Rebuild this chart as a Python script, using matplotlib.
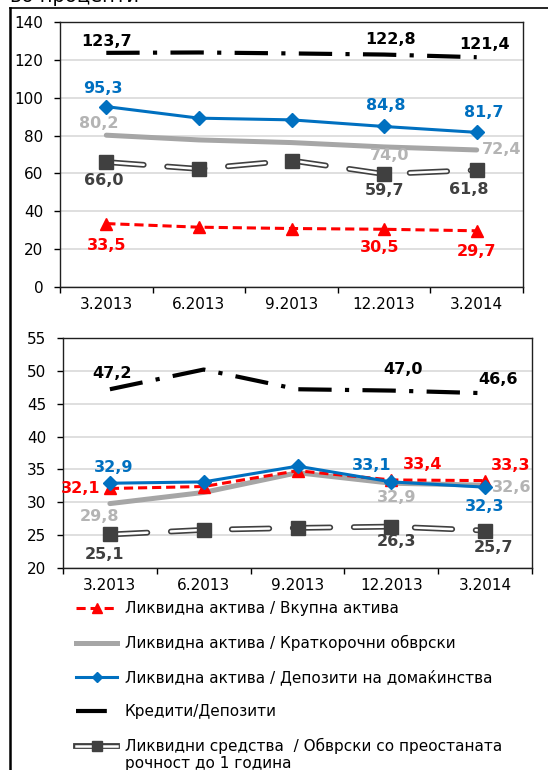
import matplotlib
matplotlib.use("Agg")
import matplotlib.pyplot as plt
import matplotlib.patheffects as pe
from matplotlib.lines import Line2D

# податоци
periods = ["3.2013", "6.2013", "9.2013", "12.2013", "3.2014"]

top_red = [33.5, 31.6, 30.9, 30.5, 29.7]
top_gray = [80.2, 77.7, 76.3, 74.0, 72.4]
top_blue = [95.3, 89.2, 88.3, 84.8, 81.7]
top_black = [123.7, 123.9, 123.4, 122.8, 121.4]
top_dark = [66.0, 62.4, 66.8, 59.7, 61.8]

bot_red = [32.1, 32.4, 34.8, 33.4, 33.3]
bot_gray = [29.8, 31.5, 34.5, 32.9, 32.6]
bot_blue = [32.9, 33.1, 35.5, 33.1, 32.3]
bot_black = [47.2, 50.2, 47.2, 47.0, 46.6]
bot_dark = [25.1, 25.8, 26.1, 26.3, 25.7]

labels = ["Ликвидна актива / Вкупна актива",
          "Ликвидна актива / Краткорочни обврски",
          "Ликвидна актива / Депозити на домаќинства",
          "Кредити/Депозити",
          "Ликвидни средства  / Обврски со преостаната"]
label_cont = "рочност до 1 година"

RED = "#FF0000"
GRAY = "#A6A6A6"
GRAY_LBL = "#B4B4B4"
BLUE = "#0070C0"
DARK = "#404040"

plt.rcParams['font.family'] = ['DejaVu Sans']

fig = plt.figure(figsize=(5.48, 7.70), dpi=100)
W, H = 548.0, 770.0


def fx(px):
    return px / W


def fy(py):
    return 1 - py / H


def double_line(ax, x, y):
    ax.plot(x, y, color="white", lw=1.8, linestyle=(0, (15, 9.4)),
            dash_capstyle="round", zorder=5,
            path_effects=[pe.Stroke(linewidth=4.2, foreground=DARK), pe.Normal()])
    ax.plot(x, y, color=DARK, marker="s", ms=9.5, linestyle="none", zorder=6)


def put_labels(ax, y, idxs, offs, color):
    for i, (dx, dy) in zip(idxs, offs):
        ax.annotate(f"{y[i]:.1f}".replace(".", ","), (i, y[i]), xytext=(dx, dy),
                    textcoords="offset pixels", ha="center", va="center",
                    fontsize=11.5, fontweight="bold", color=color, zorder=10)


def style_axes(ax, ylim, step):
    ax.set_xlim(-0.5, 4.5)
    ax.set_ylim(*ylim)
    ax.set_yticks(range(ylim[0], ylim[1] + 1, step))
    ax.set_xticks(range(len(periods)))
    ax.set_xticklabels(periods)
    ax.set_xticks([i - 0.5 for i in range(len(periods) + 1)], minor=True)
    ax.tick_params(axis="x", which="major", length=0, pad=7, labelsize=11)
    ax.tick_params(axis="x", which="minor", length=4, width=1, direction="out")
    ax.tick_params(axis="y", length=4, width=1, direction="out", pad=8, labelsize=11)
    ax.grid(axis="y", color="#D9D9D9", lw=1.2)
    ax.set_axisbelow(True)
    for s in ax.spines.values():
        s.set_color("#202020")
        s.set_linewidth(1.0)


x = list(range(len(periods)))

# горен график
ax1 = fig.add_axes([fx(60), fy(287), fx(523) - fx(60), fy(22) - fy(287)])
ax1.plot(x, top_gray, color=GRAY, lw=3.6, zorder=3, solid_capstyle="round")
ax1.plot(x, top_red, color=RED, lw=2.2, linestyle=(0, (3, 1.6)), marker="^", ms=9, zorder=4)
ax1.plot(x, top_blue, color=BLUE, lw=2.2, marker="D", ms=7, zorder=4)
ax1.plot(x, top_black, color="black", lw=3, linestyle=(0, (8, 3.2, 1, 3.2)), zorder=4)
double_line(ax1, x, top_dark)
style_axes(ax1, (0, 140), 20)

put_labels(ax1, top_black, [0, 3, 4], [(0, 11), (6, 15), (8, 13)], "black")
put_labels(ax1, top_blue, [0, 3, 4], [(-3, 18), (2, 21), (7, 20)], BLUE)
put_labels(ax1, top_gray, [0, 3, 4], [(-8, 12), (6, -9), (25, 0)], GRAY_LBL)
put_labels(ax1, top_dark, [0, 3, 4], [(-3, -18), (0, -17), (-8, -19)], DARK)
put_labels(ax1, top_red, [0, 3, 4], [(0, -22), (-4, -18), (0, -21)], RED)

# долен график
ax2 = fig.add_axes([fx(63), fy(568), fx(532) - fx(63), fy(338) - fy(568)])
ax2.plot(x, bot_gray, color=GRAY, lw=3.6, zorder=3, solid_capstyle="round")
ax2.plot(x, bot_red, color=RED, lw=2.2, linestyle=(0, (3, 1.6)), marker="^", ms=9, zorder=4)
ax2.plot(x, bot_blue, color=BLUE, lw=2.2, marker="D", ms=7, zorder=4)
ax2.plot(x, bot_black, color="black", lw=3, linestyle=(0, (8, 3.2, 1, 3.2)), zorder=4)
double_line(ax2, x, bot_dark)
style_axes(ax2, (20, 55), 5)

put_labels(ax2, bot_black, [0, 3, 4], [(2, 16), (12, 21), (13, 14)], "black")
put_labels(ax2, bot_blue, [0, 3, 4], [(4, 16), (-20, 16), (0, -19)], BLUE)
put_labels(ax2, bot_red, [0, 3, 4], [(-29, 0), (31, 15), (26, 15)], RED)
put_labels(ax2, bot_gray, [0, 3, 4], [(-10, -13), (5, -14), (27, -2)], GRAY_LBL)
put_labels(ax2, bot_dark, [0, 3, 4], [(-5, -20), (5, -15), (8, -17)], DARK)

# легенда
h_red = Line2D([], [], color=RED, lw=2.2, linestyle=(0, (3, 1.6)), marker="^", ms=7)
h_gray = Line2D([], [], color=GRAY, lw=3.6)
h_blue = Line2D([], [], color=BLUE, lw=2.2, marker="D", ms=5)
h_black = Line2D([], [], color="black", lw=3, linestyle=(0, (7.4, 20)))
h_dl = Line2D([], [], color="white", lw=1.8,
              path_effects=[pe.Stroke(linewidth=4.2, foreground=DARK), pe.Normal()])
h_dm = Line2D([], [], color=DARK, marker="s", ms=7, linestyle="none")

leg = fig.legend([h_red, h_gray, h_blue, h_black, (h_dl, h_dm)], labels,
                 loc="upper left", bbox_to_anchor=(fx(76), fy(601)),
                 frameon=False, borderpad=0, borderaxespad=0, fontsize=11,
                 labelspacing=1.23, handlelength=2.7, handletextpad=0.5)

# втор ред од последната ставка
fig.canvas.draw()
bb = leg.get_texts()[-1].get_window_extent()
fig.text(bb.x0 / W, (bb.y0 - 17) / H, label_cont, fontsize=11, ha="left", va="bottom")

# рамка и наслов
fig.add_artist(Line2D([fx(9.5), fx(9.5)], [fy(8), 0], color="black", lw=1.8))
fig.add_artist(Line2D([fx(9.5), 1], [fy(8), fy(8)], color="black", lw=1.2))
fig.text(fx(10), fy(2), "во проценти", fontsize=14, ha="left", va="baseline")

fig.savefig("out.png", dpi=100)
